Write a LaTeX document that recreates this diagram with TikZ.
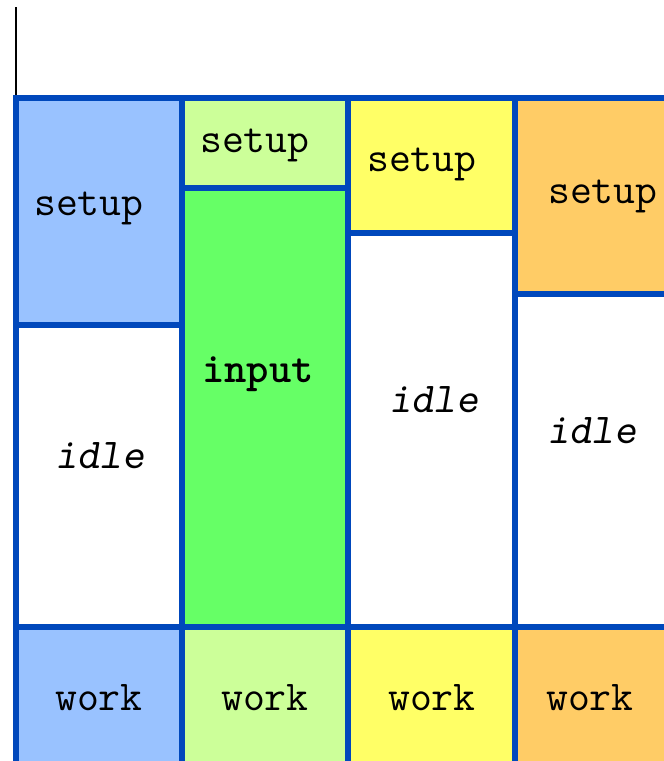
\documentclass[tikz,border=0pt]{standalone}
\usepackage{fontspec}
\definecolor{gridblue}{RGB}{0,72,188}
\definecolor{cellblue}{RGB}{153,194,255}
\definecolor{celllime}{RGB}{204,255,153}
\definecolor{cellgreen}{RGB}{102,255,102}
\definecolor{cellyellow}{RGB}{255,255,102}
\definecolor{cellorange}{RGB}{255,204,102}
\tikzset{
  cell/.style={draw=gridblue, line width=5.5pt},
  lbl/.style={anchor=base west, inner sep=0pt, font=\ttfamily\fontsize{42.5}{48}\selectfont},
}
\begin{document}
\begin{tikzpicture}[x=1pt,y=-1pt]
  \useasboundingbox (0,0) rectangle (664,761);
  \clip (0,0) rectangle (664,761);
  % time axis stub
  \draw[line width=1.8pt] (16,7) -- (16,97);
  % column 1
  \draw[cell, fill=cellblue]   (16,98)  rectangle (182,325);
  \draw[cell, fill=white]      (16,325) rectangle (182,627);
  \draw[cell, fill=cellblue]   (16,627) rectangle (182,800);
  % column 2
  \draw[cell, fill=celllime]   (182,98)  rectangle (348,188);
  \draw[cell, fill=cellgreen]  (182,188) rectangle (348,627);
  \draw[cell, fill=celllime]   (182,627) rectangle (348,800);
  % column 3
  \draw[cell, fill=cellyellow] (348,98)  rectangle (515,233);
  \draw[cell, fill=white]      (348,233) rectangle (515,627);
  \draw[cell, fill=cellyellow] (348,627) rectangle (515,800);
  % column 4
  \draw[cell, fill=cellorange] (515,98)  rectangle (720,294);
  \draw[cell, fill=white]      (515,294) rectangle (720,627);
  \draw[cell, fill=cellorange] (515,627) rectangle (720,800);
  % labels
  \node[lbl] (s1) at (34,215)  {setup};
  \node[lbl] (s2) at (200,152) {setup};
  \node[lbl] (s3) at (367,171) {setup};
  \node[lbl] (s4) at (548,203) {setup};
  \node[lbl] (i1) at (55,468)  {\slshape idle};
  \node[lbl] (in) at (202,382) {\bfseries input};
  \node[lbl] (i3) at (389,412) {\slshape idle};
  \node[lbl] (i4) at (547,443) {\slshape idle};
  \node[lbl] (w1) at (55,710)  {work};
  \node[lbl] (w2) at (221,710) {work};
  \node[lbl] (w3) at (388,710) {work};
  \node[lbl] (w4) at (546,710) {work};
\end{tikzpicture}
\end{document}
